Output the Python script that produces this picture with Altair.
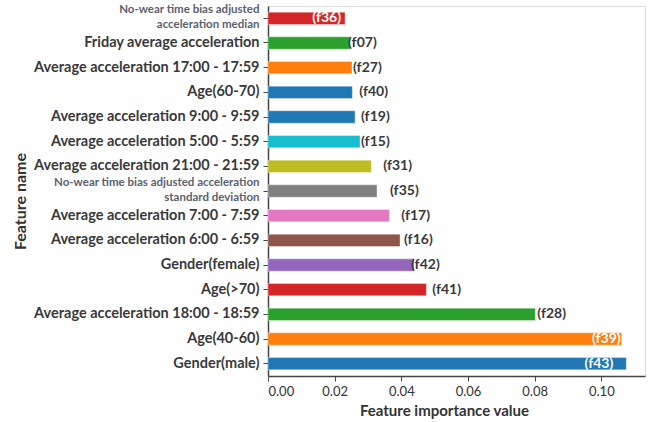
import altair as alt
import pandas as pd

# Features, listed top to bottom
features = [
    "No-wear time bias adjusted\nacceleration median",
    "Friday average acceleration",
    "Average acceleration 17:00 - 17:59",
    "Age(60-70)",
    "Average acceleration 9:00 - 9:59",
    "Average acceleration 5:00 - 5:59",
    "Average acceleration 21:00 - 21:59",
    "No-wear time bias adjusted acceleration\nstandard deviation",
    "Average acceleration 7:00 - 7:59",
    "Average acceleration 6:00 - 6:59",
    "Gender(female)",
    "Age(>70)",
    "Average acceleration 18:00 - 18:59",
    "Age(40-60)",
    "Gender(male)",
]
codes = ["(f36)", "(f07)", "(f27)", "(f40)", "(f19)", "(f15)", "(f31)", "(f35)",
         "(f17)", "(f16)", "(f42)", "(f41)", "(f28)", "(f39)", "(f43)"]
importance = [0.0231, 0.0246, 0.0252, 0.0253, 0.0261, 0.0276, 0.0310, 0.0327,
              0.0364, 0.0396, 0.0438, 0.0475, 0.0802, 0.1061, 0.1075]
bar_colors = ["#d62728", "#2ca02c", "#ff7f0e", "#1f77b4", "#1f77b4", "#17becf",
              "#bcbd22", "#7f7f7f", "#e377c2", "#8c564b", "#9467bd", "#d62728",
              "#2ca02c", "#ff7f0e", "#1f77b4"]

# Annotation placement: pixel gap from the bar end, and whether it sits inside the bar
label_gap = [-4, -2, 1, 7, 6, 1, 12, 13, 12, 4, -3, 6, 2, -1, -13]
label_inside = [True, False, False, False, False, False, False, False,
                False, False, False, False, False, True, True]

X_MAX = 0.1131
PLOT_W = 377
PLOT_H = 370

df = pd.DataFrame({
    "feature": features,
    "code": codes,
    "importance": importance,
    "color": bar_colors,
    "gap": label_gap,
    "inside": label_inside,
})

FONT = "Lato"
TEXT_DARK = "#3a3a3a"
MULTI = "indexof(datum.label, '\\n') >= 0"

x_scale = alt.Scale(domain=[0, X_MAX], nice=False, zero=True)
y_enc = alt.Y(
    "feature:N",
    sort=features,
    scale=alt.Scale(paddingInner=0.5, paddingOuter=0.25),
    axis=alt.Axis(
        title="Feature name",
        titleFont=FONT, titleFontSize=16, titleFontWeight="bold", titleColor="#333333",
        titleAngle=270, titleX=-248, titleY=195, titleAlign="center", titleBaseline="middle",
        labelExpr="split(datum.label, '\\n')",
        labelFont=FONT,
        labelFontWeight="bold",
        labelFontSize=alt.condition(MULTI, alt.value(11.5), alt.value(14.5)),
        labelColor=alt.condition(MULTI, alt.value("#5b6170"), alt.value(TEXT_DARK)),
        labelOffset=alt.condition(MULTI, alt.value(-8), alt.value(0)),
        labelLineHeight=14.5,
        labelPadding=4, tickSize=5, tickColor="#444444",
        domainColor="#444444", domainWidth=1.5, labelLimit=300,
    ),
)

bars = alt.Chart(df).mark_bar(stroke="white", strokeWidth=0.6, strokeOpacity=0.6).encode(
    x=alt.X(
        "importance:Q",
        scale=x_scale,
        axis=alt.Axis(
            title="Feature importance value",
            values=[0, 0.02, 0.04, 0.06, 0.08, 0.10], format=".2f",
            labelFont=FONT, labelFontSize=13, labelColor="#333333", labelPadding=4,
            tickSize=5, tickColor="#444444", domainColor="#444444", domainWidth=1.5,
            grid=False,
            titleFont=FONT, titleFontSize=15, titleFontWeight="bold", titleColor="#333333",
            titleX=176, titleY=34, titleAlign="center", titleBaseline="middle",
        ),
    ),
    y=y_enc,
    color=alt.Color("color:N", scale=None),
)

label_base = alt.Chart(df).transform_calculate(
    lx=f"datum.importance + datum.gap * {X_MAX} / {PLOT_W}"
)

outside = label_base.transform_filter("!datum.inside").mark_text(
    align="left", baseline="middle", font=FONT, fontSize=14, fontWeight="bold", color=TEXT_DARK
).encode(
    x=alt.X("lx:Q", scale=x_scale),
    y=alt.Y("feature:N", sort=features),
    text="code:N",
)

inside = label_base.transform_filter("datum.inside").mark_text(
    align="right", baseline="middle", font=FONT, fontSize=14, fontWeight="bold", color="white"
).encode(
    x=alt.X("lx:Q", scale=x_scale),
    y=alt.Y("feature:N", sort=features),
    text="code:N",
)

chart = alt.layer(bars, outside, inside).properties(
    width=PLOT_W,
    height=PLOT_H,
    autosize=alt.AutoSizeParams(type="none"),
    padding={"left": 268, "top": 6, "right": 13, "bottom": 46},
).configure_view(
    stroke="#444444", strokeWidth=1.5
).configure(background="white")

chart.save("out.html", embed_options={"renderer": "svg", "actions": False})
